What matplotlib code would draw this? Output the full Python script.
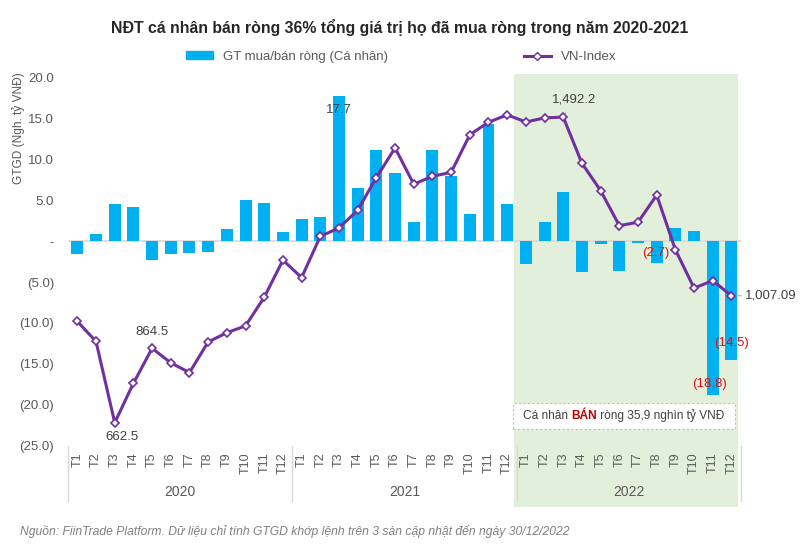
import matplotlib
matplotlib.use('Agg')
import matplotlib.pyplot as plt
from matplotlib.patches import Patch, Rectangle
from matplotlib.lines import Line2D
from matplotlib.ticker import FuncFormatter
import numpy as np

plt.rcParams['font.family'] = ['Liberation Sans', 'DejaVu Sans']

# data
years = ['2020', '2021', '2022']
months = ['T%d' % m for m in range(1, 13)]
net_value = [
    -1.6, 0.9, 4.5, 4.2, -2.3, -1.6, -1.4, -1.3, 1.5, 5.0, 4.6, 1.1,     # 2020
    2.7, 3.0, 17.7, 6.5, 11.1, 8.3, 2.3, 11.1, 8.0, 3.3, 14.3, 4.5,      # 2021
    -2.8, 2.3, 6.0, -3.8, -0.3, -3.7, -0.2, -2.7, 1.6, 1.2, -18.8, -14.5  # 2022
]
vnindex = [
    937.5, 883.0, 662.5, 769.5, 864.5, 825.1, 798.6, 882.0, 906.8, 925.5, 1003.1, 1103.9,
    1056.7, 1168.5, 1191.4, 1239.4, 1328.1, 1408.6, 1310.1, 1331.5, 1342.1, 1444.3, 1478.4, 1498.3,
    1479.0, 1490.1, 1492.2, 1366.8, 1292.7, 1197.6, 1206.8, 1280.5, 1132.1, 1027.9, 1048.4, 1007.09
]

labels = months * len(years)
x = np.arange(len(labels))

bar_color = '#00B0F0'
line_color = '#7030A0'
text_grey = '#595959'
red = '#E01010'

fig = plt.figure(figsize=(8, 5.53), dpi=100)
ax = fig.add_axes([0.085, 0.194, 0.841, 0.666])

ax.axvspan(23.35, 35.35, ymin=-0.167, ymax=1.009, color='#E2EFDA', zorder=0, clip_on=False, lw=0)
ax.axhline(0, color='#D9D9D9', lw=1.2, zorder=1)
bars = ax.bar(x, net_value, width=0.64, color=bar_color, zorder=2)

ax.set_xlim(-0.5, len(labels) - 0.5)
ax.set_ylim(-25, 20)
ax.set_yticks(np.arange(-25, 21, 5))


def fmt(v, pos):
    if abs(v) < 1e-9:
        return '-'
    if v < 0:
        return '(%.1f)' % -v
    return '%.1f' % v


ax.yaxis.set_major_formatter(FuncFormatter(fmt))
ax.tick_params(axis='y', length=0, pad=10, labelsize=9.5, labelcolor=text_grey)
ax.set_xticks(x)
ax.set_xticklabels(labels, rotation=90, fontsize=9, color=text_grey)
ax.tick_params(axis='x', length=0, pad=5)
for s in ax.spines.values():
    s.set_visible(False)

# year separators and labels
trans = ax.get_xaxis_transform()
for i, yr in enumerate(years):
    ax.plot([i * 12 - 0.5] * 2, [0, -0.151], transform=trans, color='#D9D9D9', lw=1, clip_on=False)
    ax.text(i * 12 + 5.5, -0.126, yr, transform=trans, ha='center', va='center', fontsize=10, color=text_grey)
ax.plot([len(labels) - 0.5] * 2, [0, -0.151], transform=trans, color='#D9D9D9', lw=1, clip_on=False)

# bar labels
ax.annotate('17.7', (14, net_value[14]), xytext=(0, -10), textcoords='offset points',
            ha='center', va='center', fontsize=9.5, color='#404040', zorder=5)
for idx, off in [(31, (-1, 7)), (34, (-2, 8)), (35, (0, 12))]:
    ax.annotate('(%.1f)' % -net_value[idx], (idx, net_value[idx]), xytext=off, textcoords='offset points',
                ha='center', va='center', fontsize=9.5, color=red, zorder=5)

# annotation box
ax.add_patch(Rectangle((23.3, -22.9), 11.9, 3.1, facecolor='white', edgecolor='#BFBFBF',
                       ls=(0, (2, 2)), lw=0.8, zorder=3))
t1 = ax.text(23.85, -21.35, 'Cá nhân ', ha='left', va='center', fontsize=8.6, color='#404040', zorder=4)
t2 = ax.annotate('BÁN', xy=(1, 0), xycoords=t1, ha='left', va='bottom', fontsize=8.6,
                 color='#C00000', fontweight='bold', zorder=4)
ax.annotate(' ròng 35,9 nghìn tỷ VNĐ', xy=(1, 0), xycoords=t2, ha='left', va='bottom', fontsize=8.6,
            color='#404040', zorder=4)

# VN-Index on hidden secondary axis
ax2 = ax.twinx()
ax2.set_ylim(600, 1600)
ax2.axis('off')
ax2.plot(x, vnindex, color=line_color, lw=2.2, marker='D', markersize=4.5,
         markerfacecolor='white', markeredgecolor=line_color, markeredgewidth=1.2, zorder=4)
ax2.annotate('864.5', (4, vnindex[4]), xytext=(0, 11.5), textcoords='offset points',
             ha='center', va='center', fontsize=9.5, color='#404040')
ax2.annotate('662.5', (2, vnindex[2]), xytext=(5, -10.6), textcoords='offset points',
             ha='center', va='center', fontsize=9.5, color='#404040')
ax2.annotate('1,492.2', (26, vnindex[26]), xytext=(7.5, 13), textcoords='offset points',
             ha='center', va='center', fontsize=9.5, color='#404040',
             arrowprops=dict(arrowstyle='-', color='#A6A6A6', lw=0.8, shrinkA=4, shrinkB=2))
ax2.annotate('1,007.09', (35, vnindex[35]), xytext=(10, 0), textcoords='offset points',
             ha='left', va='center', fontsize=9.5, color='#404040',
             arrowprops=dict(arrowstyle='-', color='#A6A6A6', lw=0.8, shrinkA=1, shrinkB=3))

# titles, legend, notes
fig.text(0.5, 0.951, 'NĐT cá nhân bán ròng 36% tổng giá trị họ đã mua ròng trong năm 2020-2021',
         ha='center', va='center', fontsize=11.4, fontweight='bold', color='#262626')
handles = [Patch(color=bar_color),
           Line2D([], [], color=line_color, lw=2.2, marker='D', markersize=4.5,
                  markerfacecolor='white', markeredgecolor=line_color)]
fig.legend(handles, ['GT mua/bán ròng (Cá nhân)', 'VN-Index'], loc='center', bbox_to_anchor=(0.502, 0.897),
           ncol=2, frameon=False, fontsize=9.5, handlelength=2.0, handleheight=0.6,
           columnspacing=10.3, labelcolor=text_grey)
fig.text(0.023, 1 - 128 / 553, 'GTGD (Ngh. tỷ VNĐ)', rotation=90, ha='center', va='center',
         fontsize=8.6, color=text_grey)
fig.text(0.025, 1 - 532 / 553, 'Nguồn: FiinTrade Platform. Dữ liệu chỉ tính GTGD khớp lệnh trên 3 sàn cập nhật đến ngày 30/12/2022',
         ha='left', va='center', fontsize=8.7, style='italic', color='#808080')

fig.savefig('out.png', dpi=100)
